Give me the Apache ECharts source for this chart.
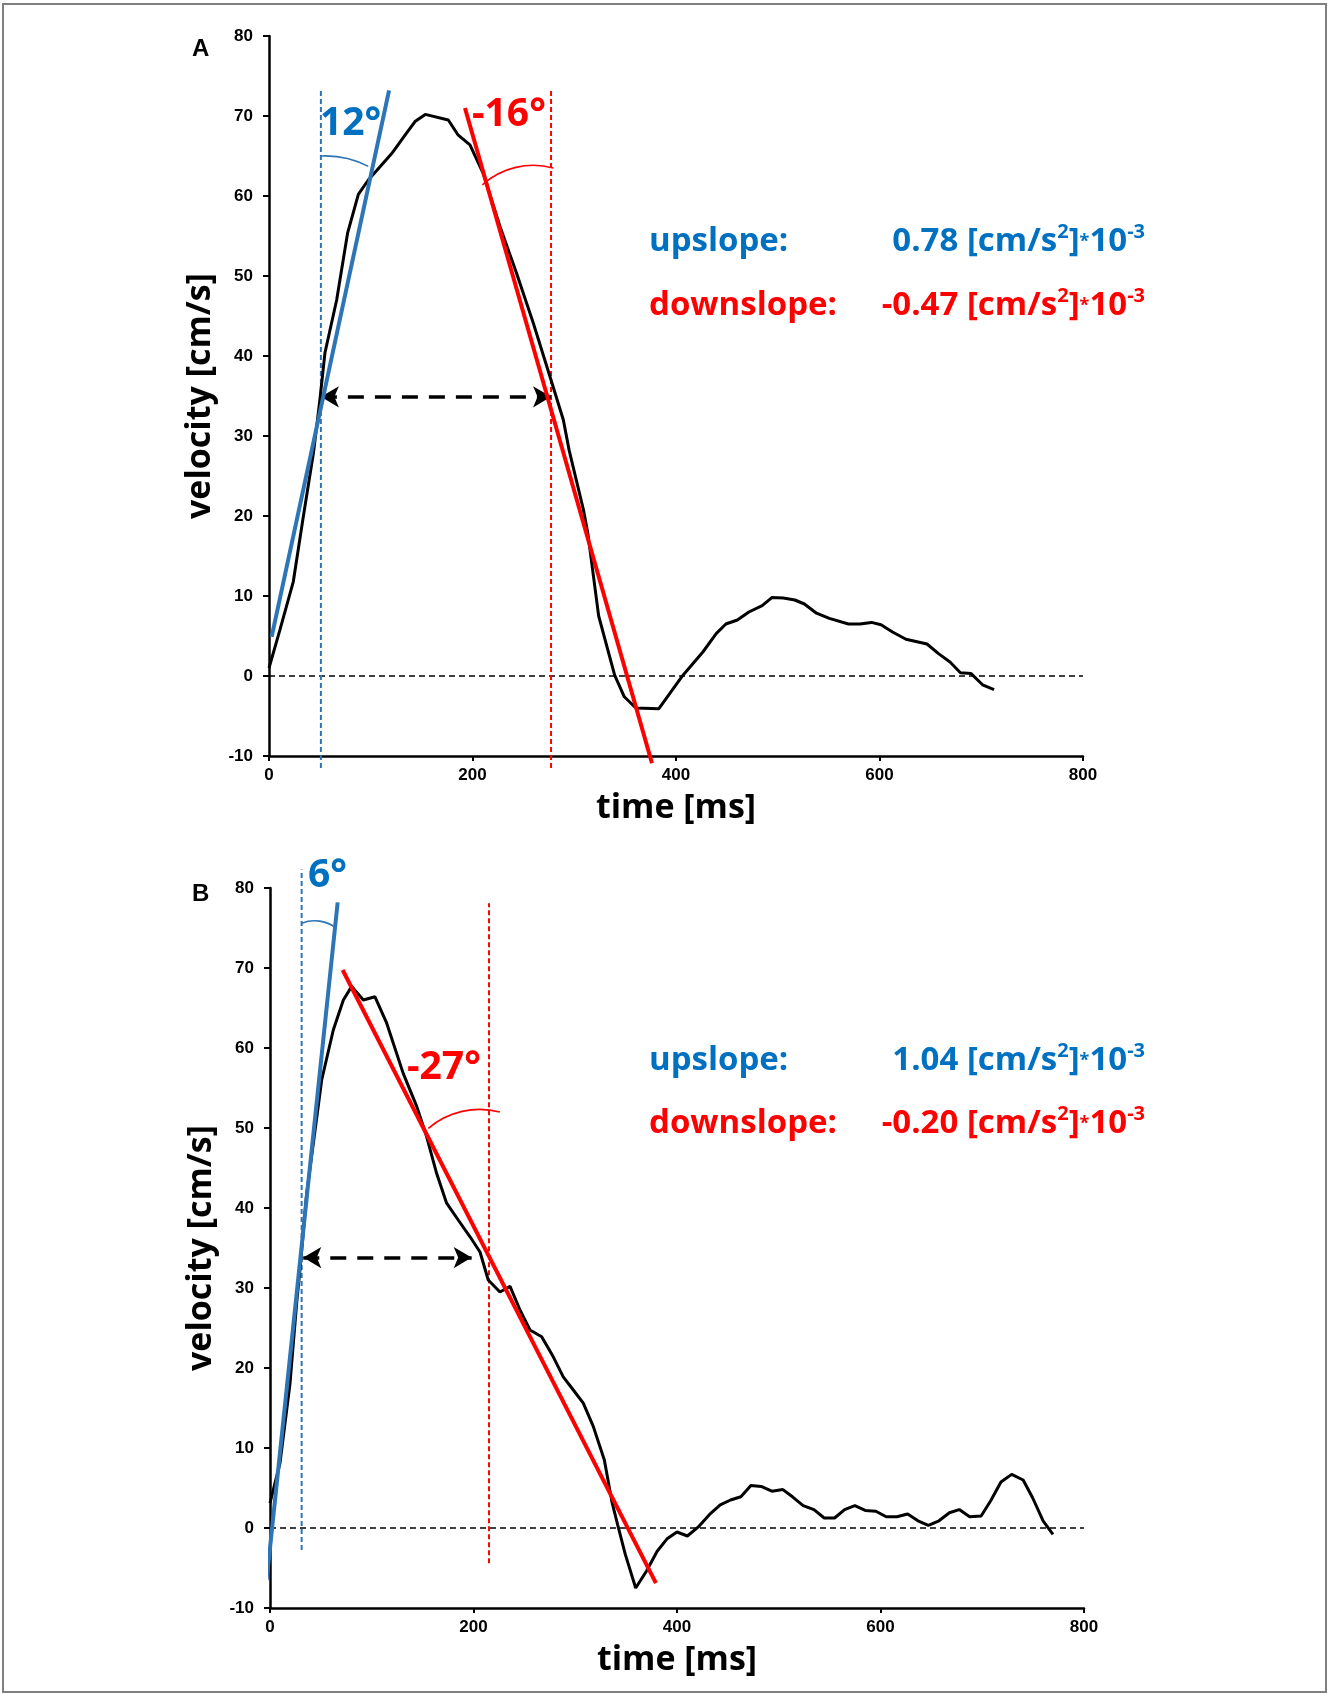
<!DOCTYPE html>
<html>
<head>
<meta charset="utf-8">
<script src="https://cdn.jsdelivr.net/npm/echarts/dist/echarts.min.js"></script>
<style>
html,body{margin:0;padding:0;background:#fff;}
#chart{width:1329px;height:1693px;}
</style>
</head>
<body>
<div id="chart"></div>
<script>
// ---------- DATA ----------
// Panel A: velocity curve
const timeA = [0,10.8,23.9,33.7,43.6,50,55,66.5,77.3,87.8,97.6,120.6,133.7,143.5,153.6,176.2,186,197.5,210.6,227,243.4,259.8,276.2,289.3,295,309,313.4,324,339.7,349.2,360.5,383,405.6,426.4,439.5,449,460.3,471.6,484.7,494.2,505.5,516.8,526.2,537.5,550.7,569.5,580.8,592.1,601.5,612.8,626,646.7,658,669.3,679.5,690,701.3,712.6];
const velA  = [1.0,5.8,11.8,19.9,27.8,34.5,40.4,47.0,55.4,60.2,62.0,65.3,67.6,69.3,70.2,69.5,67.6,66.4,62.8,56.2,50.3,44.1,37.4,32.0,28.2,20.8,17.8,7.5,0.1,-2.6,-4.0,-4.1,-0.1,3.0,5.3,6.5,7.0,8.0,8.8,9.8,9.75,9.5,9.0,7.9,7.2,6.5,6.5,6.7,6.4,5.5,4.6,4.0,2.8,1.75,0.4,0.3,-1.1,-1.7];
// Panel B: velocity curve
const timeB = [0,9.8,19.7,26.2,30,36,42.6,50.8,62.2,72.1,80.3,91.7,103.2,114.7,131,144.2,154,163.8,173.6,185,196.6,206.4,214.5,226,235.9,245.7,255.5,267,278.4,288.2,298.1,307.9,317.7,328.6,336,341.7,349.2,359.4,369.9,380.5,390.6,400,410.2,420.7,432,442.5,452.6,462.8,472.6,482.7,493.2,504.1,513.5,524,534.6,544.7,554.9,564.7,574.8,585,595.5,605.6,616.2,626.7,636.8,647,657.5,667.7,677.4,687.6,698.9,708.3,718.4,728.9,740.2,749.6,759.8,769.5];
const velB  = [3.1,8.1,18.1,28.1,33,41.8,48.1,56,62.25,66,67.7,66,66.4,63.1,56.8,52.7,48.9,44.3,40.6,38.5,36.4,34.5,31,29.5,30.2,27.25,24.75,23.9,21.4,18.9,17.25,15.6,12.7,8.5,3.3,0.4,-3.3,-7.5,-5.4,-2.9,-1.3,-0.5,-1.0,0.1,1.7,2.9,3.5,3.9,5.3,5.2,4.6,4.8,3.9,2.8,2.3,1.25,1.25,2.3,2.8,2.2,2.1,1.4,1.4,1.75,0.9,0.33,0.9,1.9,2.3,1.4,1.5,3.4,5.75,6.7,6.0,3.75,0.9,-0.8];
// Tangent (fit) lines [time, velocity]
const upLineA   = [[2.6, 4.9], [118, 73.2]];
const downLineA = [[192.6, 71], [376.4, -10.9]];
const upLineB   = [[-3.3, -6.5], [66.5, 78.2]];
const downLineB = [[71.4, 69.75], [379.3, -6.9]];
// Vertical reference times and their extents
const upMarkA   = [[51, -11.5], [51, 73.5]];
const downMarkA = [[277.2, -11.5], [277.2, 73.5]];
const upMarkB   = [[31.1, -2.75], [31.1, 82.3]];
const downMarkB = [[215.2, -4.4], [215.2, 78.1]];
// Duration arrows
const durA = [[51, 34.9], [277.2, 34.9]];
const durB = [[32.7, 33.8], [198.2, 33.8]];
// Zero line
const zeroLine = [[0, 0], [800, 0]];
// Angle arcs, each through three points: [t1, v1, t2, v2, t3, v3]
const arcsA = [[50.8, 65.0, 72.9, 64.8, 97.6, 63.7], [209.7, 61.4, 253.2, 63.8, 279.4, 63.5]];
const arcsB = [[31.1, 75.6, 42.5, 75.9, 65.4, 74.96], [155.6, 49.96, 196.6, 52.25, 225.9, 52.0]];
// Axis ticks
const xTicks = {min: 0, max: 800, interval: 200};
const yTicks = {min: -10, max: 80, interval: 10};
// Texts
const slopesA = {up: '0.78', down: '-0.47', upAngle: '12°', downAngle: '-16°'};
const slopesB = {up: '1.04', down: '-0.20', upAngle: '6°', downAngle: '-27°'};

// ---------- STYLE ----------
const BLUE = '#2E75B6', BLUE_TXT = '#0070C0', RED = '#FF0000';
const TXT_FONT = '"Open Sans", "Noto Sans", sans-serif';
const AX_FONT = '"Liberation Sans", Arial, sans-serif';

function zip(t, v){ return t.map((x,i)=>[x, v[i]]); }

function xAxis(gi){
  return {gridIndex: gi, type:'value', min:xTicks.min, max:xTicks.max, interval:xTicks.interval,
    axisLine:{show:true, onZero:false, lineStyle:{color:'#000', width:2.5}},
    axisTick:{show:true, length:5, lineStyle:{color:'#000', width:2}},
    splitLine:{show:false},
    axisLabel:{fontFamily:AX_FONT, fontWeight:'bold', fontSize:17, color:'#000', margin:11},
    name:'time [ms]', nameLocation:'middle', nameGap:35,
    nameTextStyle:{fontFamily:TXT_FONT, fontWeight:'bold', fontSize:34, color:'#000'}};
}
function yAxis(gi){
  return {gridIndex: gi, type:'value', min:yTicks.min, max:yTicks.max, interval:yTicks.interval,
    axisLine:{show:true, onZero:false, lineStyle:{color:'#000', width:2.5}},
    axisTick:{show:true, length:6, lineStyle:{color:'#000', width:2}},
    splitLine:{show:false},
    axisLabel:{fontFamily:AX_FONT, fontWeight:'bold', fontSize:17, color:'#000', margin:16},
    name:'velocity [cm/s]', nameLocation:'middle', nameGap:50,
    nameTextStyle:{fontFamily:TXT_FONT, fontWeight:'bold', fontSize:34, color:'#000'}};
}
function lineSeries(gi, data, color, width, type, z){
  return {type:'line', xAxisIndex:gi, yAxisIndex:gi, data:data, symbol:'none', clip:false, silent:true,
    animation:false, z:z||2, lineStyle:{color:color, width:width, type:type||'solid', cap:'butt'}};
}
function arrowSeries(gi, pts){
  return {type:'line', xAxisIndex:gi, yAxisIndex:gi, data:[], symbol:'none', silent:true, animation:false,
    markLine:{silent:true, animation:false, symbol:['arrow','arrow'], symbolSize:[16,18], label:{show:false},
      lineStyle:{color:'#000', width:3.5, type:[16,11]},
      data:[[{coord:pts[0]},{coord:pts[1]}]]}};
}
function arcSeries(gi, arcs, colors){
  return {type:'custom', xAxisIndex:gi, yAxisIndex:gi, data:arcs, clip:false, silent:true, animation:false, z:3,
    renderItem:function(params, api){
      const p1 = api.coord([api.value(0), api.value(1)]);
      const p2 = api.coord([api.value(2), api.value(3)]);
      const p3 = api.coord([api.value(4), api.value(5)]);
      // circle through three points
      const ax=p1[0], ay=p1[1], bx=p2[0], by=p2[1], cx=p3[0], cy=p3[1];
      const d = 2*(ax*(by-cy)+bx*(cy-ay)+cx*(ay-by));
      const ux = ((ax*ax+ay*ay)*(by-cy)+(bx*bx+by*by)*(cy-ay)+(cx*cx+cy*cy)*(ay-by))/d;
      const uy = ((ax*ax+ay*ay)*(cx-bx)+(bx*bx+by*by)*(ax-cx)+(cx*cx+cy*cy)*(bx-ax))/d;
      const r = Math.hypot(ax-ux, ay-uy);
      const a1 = Math.atan2(ay-uy, ax-ux), a2 = Math.atan2(by-uy, bx-ux), a3 = Math.atan2(cy-uy, cx-ux);
      const TAU = Math.PI*2;
      const n = a => ((a % TAU)+TAU)%TAU;
      const cw = n(a2-a1) < n(a3-a1);
      return {type:'arc', shape:{cx:ux, cy:uy, r:r, startAngle:a1, endAngle:a3, clockwise:cw},
        style:{stroke:colors[params.dataIndex], fill:null, lineWidth:1.6}};
    }};
}
function seriesFor(gi, time, vel, up, down, upMark, downMark, dur, arcs){
  return [
    lineSeries(gi, zeroLine, '#000', 1.3, [6,4], 1),
    lineSeries(gi, upMark, BLUE, 2, [5,3], 1),
    lineSeries(gi, downMark, RED, 2, [5,3], 1),
    lineSeries(gi, zip(time, vel), '#000', 3, 'solid', 4),
    lineSeries(gi, up, BLUE, 4, 'solid', 5),
    lineSeries(gi, down, RED, 4, 'solid', 5),
    arrowSeries(gi, dur),
    arcSeries(gi, arcs, [BLUE, RED])
  ];
}

function slopeText(x, y, label, value, color){
  const base = {fontFamily:TXT_FONT, fontWeight:'bold', fontSize:33, fill:color, lineHeight:40};
  return [
    {type:'text', x:x, y:y, style:{text:label, font:'bold 33px '+TXT_FONT, fill:color, verticalAlign:'middle', align:'left'}},
    {type:'text', x:1145, y:y, style:{
      text:'{n|'+value+' [cm/s}{sup|2}{n|]}{st|*}{n|10}{sup|-3}',
      align:'right', verticalAlign:'middle',
      rich:{
        n: base,
        sup:{fontFamily:TXT_FONT, fontWeight:'bold', fontSize:20, fill:color, lineHeight:40, verticalAlign:'top'},
        st:{fontFamily:TXT_FONT, fontWeight:'bold', fontSize:18, fill:color, lineHeight:40, verticalAlign:'middle'}
      }}}
  ];
}
function angleText(x, y, txt, color){
  return {type:'text', x:x, y:y, style:{text:txt, font:'bold 39px '+TXT_FONT, fill:color, verticalAlign:'middle', align:'left'}};
}

const chart = echarts.init(document.getElementById('chart'), null, {renderer:'canvas'});
chart.setOption({
  backgroundColor:'#fff',
  animation:false,
  grid:[
    {left:269, top:36, width:814, height:720},
    {left:270, top:888, width:814, height:720}
  ],
  xAxis:[xAxis(0), xAxis(1)],
  yAxis:[yAxis(0), yAxis(1)],
  series:[].concat(
    seriesFor(0, timeA, velA, upLineA, downLineA, upMarkA, downMarkA, durA, arcsA),
    seriesFor(1, timeB, velB, upLineB, downLineB, upMarkB, downMarkB, durB, arcsB)
  ),
  graphic:[].concat(
    [{type:'rect', shape:{x:3, y:4, width:1323, height:1688}, style:{fill:null, stroke:'#7f7f7f', lineWidth:2}, silent:true},
     {type:'text', x:192, y:49, style:{text:'A', font:'bold 24px '+AX_FONT, fill:'#000', verticalAlign:'middle'}},
     {type:'text', x:192, y:894, style:{text:'B', font:'bold 24px '+AX_FONT, fill:'#000', verticalAlign:'middle'}},
     angleText(320, 124, slopesA.upAngle, BLUE_TXT),
     angleText(472, 115, slopesA.downAngle, RED),
     angleText(308, 876, slopesB.upAngle, BLUE_TXT),
     angleText(407, 1068, slopesB.downAngle, RED)],
    slopeText(649, 242, 'upslope:', slopesA.up, BLUE_TXT),
    slopeText(649, 306, 'downslope:', slopesA.down, RED),
    slopeText(649, 1061, 'upslope:', slopesB.up, BLUE_TXT),
    slopeText(649, 1124, 'downslope:', slopesB.down, RED)
  )
});
</script>
</body>
</html>
